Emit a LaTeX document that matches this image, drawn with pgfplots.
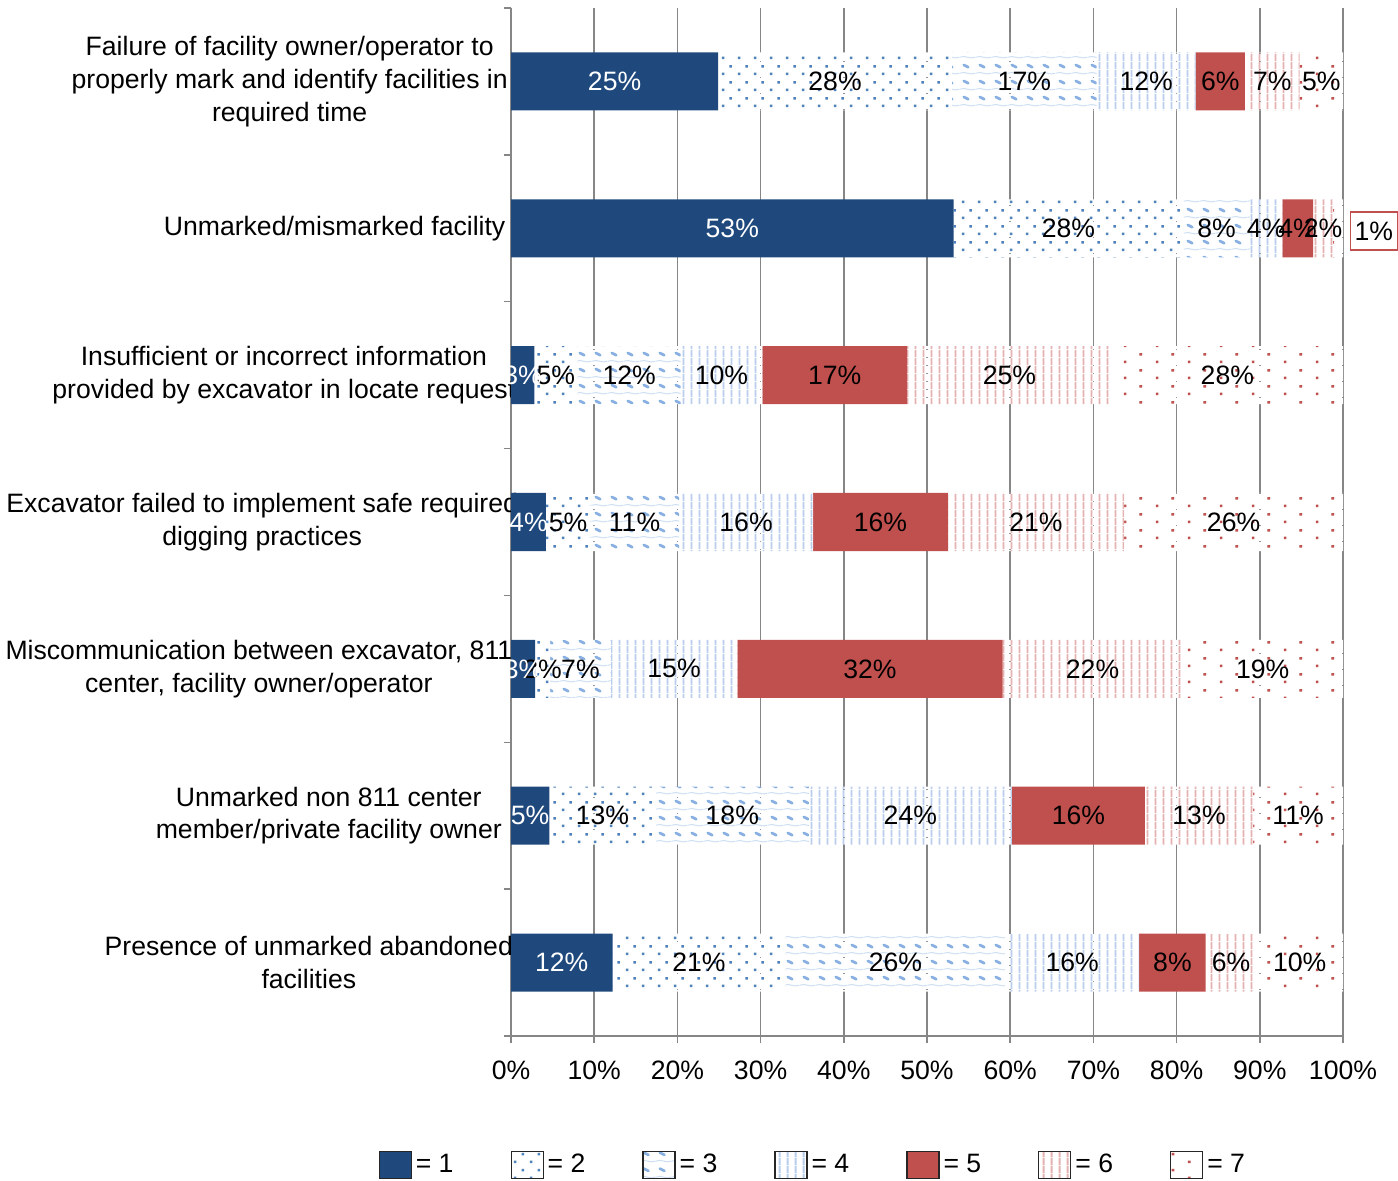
\documentclass[border=0pt]{standalone}
\usepackage{fontspec}
\setmainfont{Liberation Sans}
\usepackage{pgfplots}
\pgfplotsset{compat=1.18}
\usepackage{pgfplotstable}
\usetikzlibrary{patterns}

\definecolor{blueone}{RGB}{31,73,125}
\definecolor{redfive}{RGB}{192,80,77}
\definecolor{dotblue}{RGB}{79,129,189}
\definecolor{dotred}{RGB}{192,80,77}
\definecolor{linblue}{RGB}{185,205,236}
\definecolor{linred}{RGB}{228,178,177}
\definecolor{shdark}{RGB}{135,175,224}
\definecolor{shlight}{RGB}{205,222,242}
\definecolor{gridgray}{RGB}{134,134,134}

\pgfdeclarepatterninherentlycolored{bdots}{\pgfpoint{0pt}{0pt}}{\pgfpoint{8pt}{8pt}}{\pgfpoint{8pt}{8pt}}{%
  \pgfsetfillcolor{white}\pgfpathrectangle{\pgfpointorigin}{\pgfpoint{8pt}{8pt}}\pgfusepath{fill}%
  \pgfsetfillcolor{dotblue}%
  \pgfpathrectangle{\pgfpoint{1pt}{1pt}}{\pgfpoint{1.3pt}{1.3pt}}%
  \pgfpathrectangle{\pgfpoint{5pt}{5pt}}{\pgfpoint{1.3pt}{1.3pt}}%
  \pgfusepath{fill}}
\pgfdeclarepatterninherentlycolored{rdots}{\pgfpoint{0pt}{0pt}}{\pgfpoint{16pt}{8pt}}{\pgfpoint{16pt}{8pt}}{%
  \pgfsetfillcolor{white}\pgfpathrectangle{\pgfpointorigin}{\pgfpoint{16pt}{8pt}}\pgfusepath{fill}%
  \pgfsetfillcolor{dotred}%
  \pgfpathrectangle{\pgfpoint{2pt}{1pt}}{\pgfpoint{1.3pt}{1.3pt}}%
  \pgfpathrectangle{\pgfpoint{10pt}{5pt}}{\pgfpoint{1.3pt}{1.3pt}}%
  \pgfusepath{fill}}
\pgfdeclarepatterninherentlycolored{blines}{\pgfpoint{0pt}{0pt}}{\pgfpoint{4pt}{4pt}}{\pgfpoint{4pt}{4pt}}{%
  \pgfsetfillcolor{white}\pgfpathrectangle{\pgfpointorigin}{\pgfpoint{4pt}{4pt}}\pgfusepath{fill}%
  \pgfsetfillcolor{linblue}%
  \pgfpathrectangle{\pgfpoint{1.5pt}{0pt}}{\pgfpoint{1pt}{4pt}}%
  \pgfusepath{fill}}
\pgfdeclarepatterninherentlycolored{rlines}{\pgfpoint{0pt}{0pt}}{\pgfpoint{4pt}{4pt}}{\pgfpoint{4pt}{4pt}}{%
  \pgfsetfillcolor{white}\pgfpathrectangle{\pgfpointorigin}{\pgfpoint{4pt}{4pt}}\pgfusepath{fill}%
  \pgfsetfillcolor{linred}%
  \pgfpathrectangle{\pgfpoint{1.5pt}{0pt}}{\pgfpoint{1pt}{4pt}}%
  \pgfusepath{fill}}
\pgfdeclarepatterninherentlycolored{shingle}{\pgfpoint{0pt}{0pt}}{\pgfpoint{8pt}{8pt}}{\pgfpoint{8pt}{8pt}}{%
  \pgfsetfillcolor{white}\pgfpathrectangle{\pgfpointorigin}{\pgfpoint{8pt}{8pt}}\pgfusepath{fill}%
  \pgfsetstrokecolor{shlight}\pgfsetlinewidth{0.5pt}%
  \pgfpathmoveto{\pgfpoint{0pt}{2pt}}%
  \pgfpathcurveto{\pgfpoint{2.7pt}{3.4pt}}{\pgfpoint{5.3pt}{0.6pt}}{\pgfpoint{8pt}{2pt}}%
  \pgfusepath{stroke}%
  \pgfsetstrokecolor{shdark}\pgfsetlinewidth{1.4pt}\pgfsetroundcap%
  \pgfpathmoveto{\pgfpoint{2pt}{6.4pt}}%
  \pgfpathlineto{\pgfpoint{4.4pt}{5.2pt}}%
  \pgfusepath{stroke}}

\newcommand\ff{\fontsize{13.3pt}{16.4pt}\selectfont}

\pgfplotstableread{
cat v1 v2 v3 v4 v5 v6 v7
0 24.9 28.1 17.4 11.9 5.9 6.6 5.2
1 53.2 27.6 8.0 3.9 3.7 2.4 1.2
2 2.8 5.2 12.4 9.8 17.4 24.6 27.8
3 4.2 5.3 10.7 16.1 16.2 21.2 26.3
4 2.9 1.8 7.3 15.2 31.9 21.6 19.3
5 4.6 12.8 18.4 24.4 16.0 13.0 10.8
6 12.2 20.8 26.4 16.1 8.0 6.1 10.4
}\datatable

\pgfplotsset{lab/.style={visualization depends on={\thisrow{#1} \as \myval}}}

\begin{document}
\begin{tikzpicture}[font=\ff]
\path[use as bounding box] (0,0) rectangle (699pt,590.5pt);
\begin{axis}[
  at={(255.5pt,72.5pt)}, anchor=south west,
  scale only axis, width=416pt, height=514pt,
  xbar stacked, bar width=29pt,
  xmin=0, xmax=100, ymin=-0.5, ymax=6.5, y dir=reverse,
  enlargelimits=false, clip=false,
  axis x line*=bottom, axis y line*=left,
  axis line style={draw=gridgray, line width=0.75pt},
  xtick={0,10,...,100},
  xticklabels={0\%,10\%,20\%,30\%,40\%,50\%,60\%,70\%,80\%,90\%,100\%},
  ytick={-0.5,0.5,1.5,2.5,3.5,4.5,5.5,6.5},
  yticklabels={},
  tick align=outside, major tick length=3.5pt,
  tick style={draw=gridgray, line width=0.75pt},
  xmajorgrids, grid style={draw=gridgray, line width=0.75pt},
  tick label style={font=\ff},
  xticklabel style={yshift=-5.5pt},
  point meta=x,
  nodes near coords={\ifdim\myval pt<1.5pt\else\pgfmathprintnumber[fixed,precision=0,assume math mode=true]{\myval}\%\fi},
  every node near coord/.append style={anchor=center, font=\ff, text=black},
  legend columns=7,
  legend style={draw=none, fill=none, font=\ff, at={(0.364,-0.1255)}, anchor=center,
    /tikz/every even column/.append style={column sep=26.5pt}},
  legend image code/.code={\draw[#1, draw=black!85, line width=0.6pt] (0pt,-6.75pt) rectangle (16pt,6.75pt);},
]
\addplot[fill=blueone, draw=none, lab=v1, nodes near coords style={text=white}] table[x=v1, y=cat]{\datatable};
\addplot[pattern=bdots, draw=none, lab=v2] table[x=v2, y=cat]{\datatable};
\addplot[pattern=shingle, draw=none, lab=v3] table[x=v3, y=cat]{\datatable};
\addplot[pattern=blines, draw=none, lab=v4] table[x=v4, y=cat]{\datatable};
\addplot[fill=redfive, draw=none, lab=v5] table[x=v5, y=cat]{\datatable};
\addplot[pattern=rlines, draw=none, lab=v6] table[x=v6, y=cat]{\datatable};
\addplot[pattern=rdots, draw=none, lab=v7] table[x=v7, y=cat]{\datatable};
\legend{= 1,= 2,= 3,= 4,= 5,= 6,= 7}

\node[align=center] at (axis cs:-26.6,0) {Failure of facility owner/operator to\\properly mark and identify facilities in\\required time};
\node[align=center] at (axis cs:-21.2,1) {Unmarked/mismarked facility};
\node[align=center] at (axis cs:-27.3,2) {Insufficient or incorrect information\\provided by excavator in locate request};
\node[align=center] at (axis cs:-29.9,3) {Excavator failed to implement safe required\\digging practices};
\node[align=center] at (axis cs:-30.3,4) {Miscommunication between excavator, 811\\center, facility owner/operator};
\node[align=center] at (axis cs:-21.9,5) {Unmarked non 811 center\\member/private facility owner};
\node[align=center] at (axis cs:-24.3,6) {Presence of unmarked abandoned\\facilities};
\node[draw=redfive, line width=0.75pt, fill=white, minimum width=23.5pt, minimum height=19pt, inner sep=1pt] at (axis cs:103.7,1.02) {1\%};
\end{axis}
\end{tikzpicture}
\end{document}
